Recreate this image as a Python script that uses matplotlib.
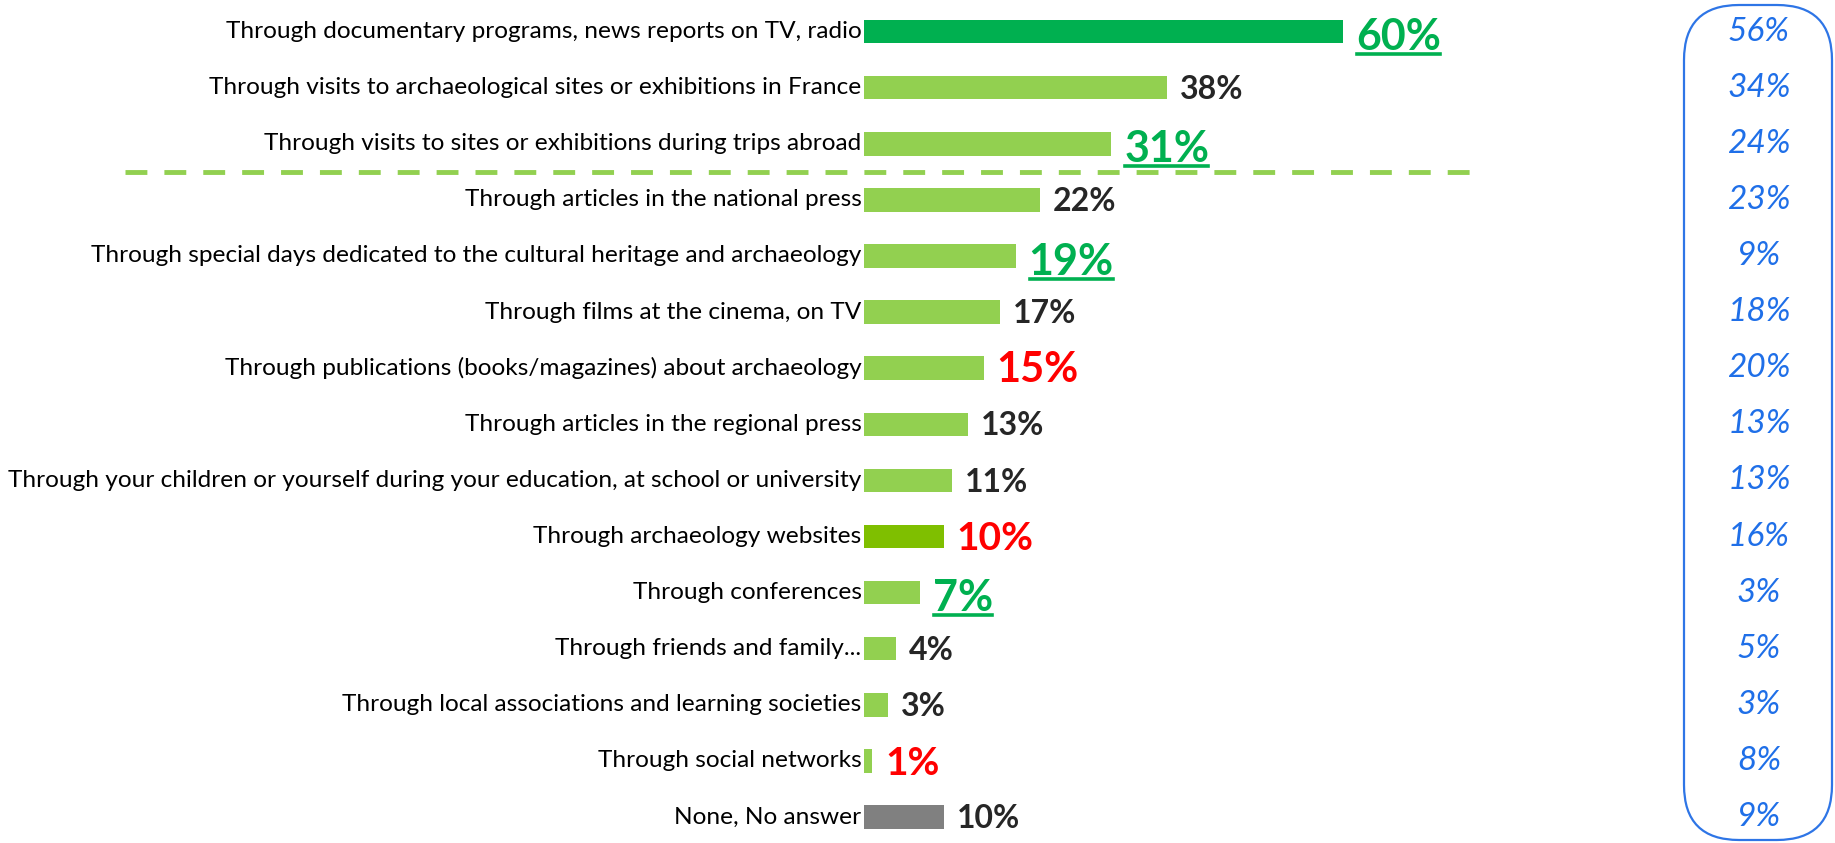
import matplotlib

matplotlib.use("Agg")
import matplotlib.pyplot as plt
from matplotlib.patches import FancyBboxPatch
from matplotlib.lines import Line2D

plt.rcParams["font.family"] = ["Lato", "DejaVu Sans"]

categories = [
    "Through documentary programs, news reports on TV, radio",
    "Through visits to archaeological sites or exhibitions in France",
    "Through visits to sites or exhibitions during trips abroad",
    "Through articles in the national press",
    "Through special days dedicated to the cultural heritage and archaeology",
    "Through films at the cinema, on TV",
    "Through publications (books/magazines) about archaeology",
    "Through articles in the regional press",
    "Through your children or yourself during your education, at school or university",
    "Through archaeology websites",
    "Through conferences",
    "Through friends and family...",
    "Through local associations and learning societies",
    "Through social networks",
    "None, No answer",
]
values = [60, 38, 31, 22, 19, 17, 15, 13, 11, 10, 7, 4, 3, 1, 10]
previous = [56, 34, 24, 23, 9, 18, 20, 13, 13, 16, 3, 5, 3, 8, 9]
# label style: "up" = green underlined, "down" = red, "same" = dark
trend = ["up", "same", "up", "same", "up", "same", "down", "same", "same",
         "down", "up", "same", "same", "down", "same"]

bar_colors = ["#00B050"] + ["#92D050"] * 8 + ["#7FBF00"] + ["#92D050"] * 4 + ["#808080"]

W, H = 1835, 843
fig = plt.figure(figsize=(W / 100, H / 100), dpi=100)

x0 = 864
px_per_pct = 7.98
row_px = 56.1
first_row = 31.6

ax = fig.add_axes([x0 / W, 0, 1 - x0 / W, 1])
ax.set_xlim(0, (W - x0) / px_per_pct)
ax.set_ylim((H - first_row) / row_px, -first_row / row_px)
ax.axis("off")

ypos = list(range(len(categories)))
ax.barh(ypos, values, height=0.42, color=bar_colors)

for y, cat in zip(ypos, categories):
    ax.text(-0.3, y, cat, ha="right", va="center", fontsize=17.6, color="#000000")

gap = 13 / px_per_pct
style = {
    "up": dict(color="#00B050", fontsize=31, dy=0.1),
    "down": dict(color="#FF0000", fontsize=28, dy=0.04),
    "same": dict(color="#262626", fontsize=23, dy=0.03),
}
texts = []
for y, v, t in zip(ypos, values, trend):
    s = style[t]
    fs = s["fontsize"] + (2 if (t == "down" and v >= 15) else 0)
    txt = ax.text(v + gap, y + s["dy"], f"{v}%", ha="left", va="center",
                  fontsize=fs, fontweight="bold", color=s["color"])
    if t == "up":
        texts.append(txt)

# separator between top 3 and the rest
ax.plot([(125 - x0) / px_per_pct, (1480 - x0) / px_per_pct], [2.5, 2.5],
        color="#92D050", lw=3.5, dashes=(4.5, 3.5), clip_on=False)

# previous wave column
xr = (1759 - x0) / px_per_pct
for y, p in zip(ypos, previous):
    ax.text(xr, y, f"{p}%", ha="center", va="center", fontsize=24,
            style="italic", color="#1F6FE8")

box = FancyBboxPatch((1684 / W, 3 / H), (1832 - 1684) / W, (838 - 3) / H,
                     boxstyle="round,pad=0,rounding_size=0.03",
                     transform=fig.transFigure, fill=False,
                     edgecolor="#2E75E6", lw=1.6, mutation_aspect=W / H)
fig.add_artist(box)

# underline the green labels
fig.canvas.draw()
renderer = fig.canvas.get_renderer()
inv = fig.transFigure.inverted()
for txt in texts:
    bb = txt.get_window_extent(renderer)
    yl = bb.y0 + 3
    (fx0, fy), (fx1, _) = inv.transform([(bb.x0 + 1, yl), (bb.x1 - 1, yl)])
    fig.add_artist(Line2D([fx0, fx1], [fy, fy], color="#00B050", lw=2.6,
                          transform=fig.transFigure))

fig.savefig("out.png", dpi=100)
